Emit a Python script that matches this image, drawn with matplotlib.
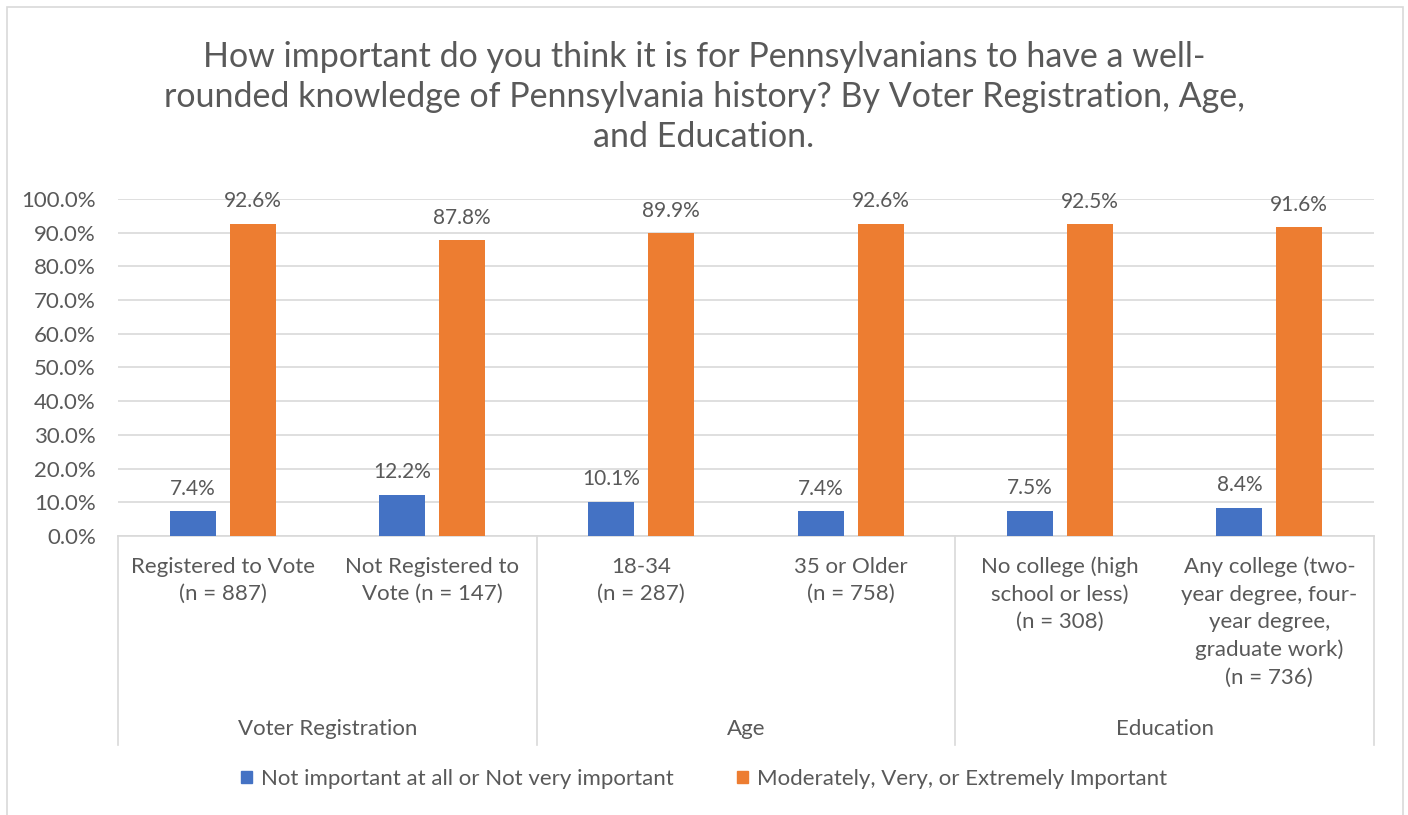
import numpy as np
import matplotlib
matplotlib.use('Agg')
import matplotlib.pyplot as plt
import matplotlib.transforms as mtransforms
from matplotlib.patches import Rectangle

plt.rcParams['font.family'] = ['Lato', 'DejaVu Sans']

title = ("How important do you think it is for Pennsylvanians to have a well-\n"
         "rounded knowledge of Pennsylvania history? By Voter Registration, Age,\n"
         "and Education.")

categories = ["Registered to Vote\n(n = 887)",
              "Not Registered to\nVote (n = 147)",
              "18-34\n(n = 287)",
              "35 or Older\n(n = 758)",
              "No college (high\nschool or less)\n(n = 308)",
              "Any college (two-\nyear degree, four-\nyear degree,\ngraduate work)\n(n = 736)"]
groups = ["Voter Registration", "Age", "Education"]
group_sizes = [2, 2, 2]

not_important = [7.4, 12.2, 10.1, 7.4, 7.5, 8.4]
important = [92.6, 87.8, 89.9, 92.6, 92.5, 91.6]
series_names = ["Not important at all or Not very important",
                "Moderately, Very, or Extremely Important"]

BLUE = "#4472C4"
ORANGE = "#ED7D31"
TEXT = "#595959"
GRID = "#D9D9D9"

W, H = 1408, 815
fig = plt.figure(figsize=(W / 100, H / 100), dpi=100)

# chart frame
fig.patches.append(Rectangle((7 / W, -0.01), (1403 - 7) / W, 1.01 - 7 / H,
                             transform=fig.transFigure, fill=False,
                             edgecolor=GRID, linewidth=1.2))

ax = fig.add_axes([118 / W, 1 - 536 / H, (1374 - 118) / W, (536 - 199) / H])

x = np.arange(len(categories))
off = 0.143
bw = 0.22
b1 = ax.bar(x - off, not_important, width=bw, color=BLUE, zorder=3)
b2 = ax.bar(x + off, important, width=bw, color=ORANGE, zorder=3)

for bars, vals in ((b1, not_important), (b2, important)):
    for rect, v in zip(bars, vals):
        ax.annotate(f"{v:.1f}%", (rect.get_x() + rect.get_width() / 2, v),
                    xytext=(0, 9), textcoords="offset points",
                    ha="center", va="bottom", fontsize=15, color=TEXT)

ax.set_xlim(-0.5, len(categories) - 0.5)
ax.set_ylim(0, 100)
ax.set_yticks(np.arange(0, 101, 10))
ax.set_yticklabels([f"{t:.1f}%" for t in np.arange(0, 101, 10)])
ax.tick_params(axis="y", length=0, pad=16, labelsize=16, labelcolor=TEXT)
ax.yaxis.grid(True, color=GRID, linewidth=1.2, zorder=0)
ax.set_axisbelow(True)

ax.set_xticks(x)
ax.set_xticklabels(categories, fontsize=16, color=TEXT, linespacing=1.46,
                   va="top")
ax.tick_params(axis="x", length=0, pad=15)

for s in ("left", "right", "top"):
    ax.spines[s].set_visible(False)
ax.spines["bottom"].set_color(GRID)
ax.spines["bottom"].set_linewidth(1.2)

# group separators and group names below the category labels
trans = mtransforms.blended_transform_factory(ax.transData, ax.transAxes)
y_low = -(745 - 536) / (536 - 199)
edges = np.concatenate([[0], np.cumsum(group_sizes)]) - 0.5
for e in edges:
    ax.plot([e, e], [0, y_low], transform=trans, color=GRID, linewidth=1.2,
            clip_on=False)
for g, a, b in zip(groups, edges[:-1], edges[1:]):
    ax.text((a + b) / 2, -(729 - 536) / (536 - 199), g, transform=trans,
            ha="center", va="center", fontsize=16, color=TEXT)

fig.text(0.5, 1 - 97 / H, title, ha="center", va="center", fontsize=24.5,
         color=TEXT, linespacing=1.3)

handles = [Rectangle((0, 0), 1, 1, color=BLUE), Rectangle((0, 0), 1, 1, color=ORANGE)]
fig.legend(handles, series_names, loc="center", bbox_to_anchor=(0.5, 1 - 779 / H),
           ncol=2, frameon=False, fontsize=16, labelcolor=TEXT,
           handlelength=0.5, handleheight=0.5, handletextpad=0.4, columnspacing=2.85)

fig.savefig("out.png", dpi=100, facecolor="white")
